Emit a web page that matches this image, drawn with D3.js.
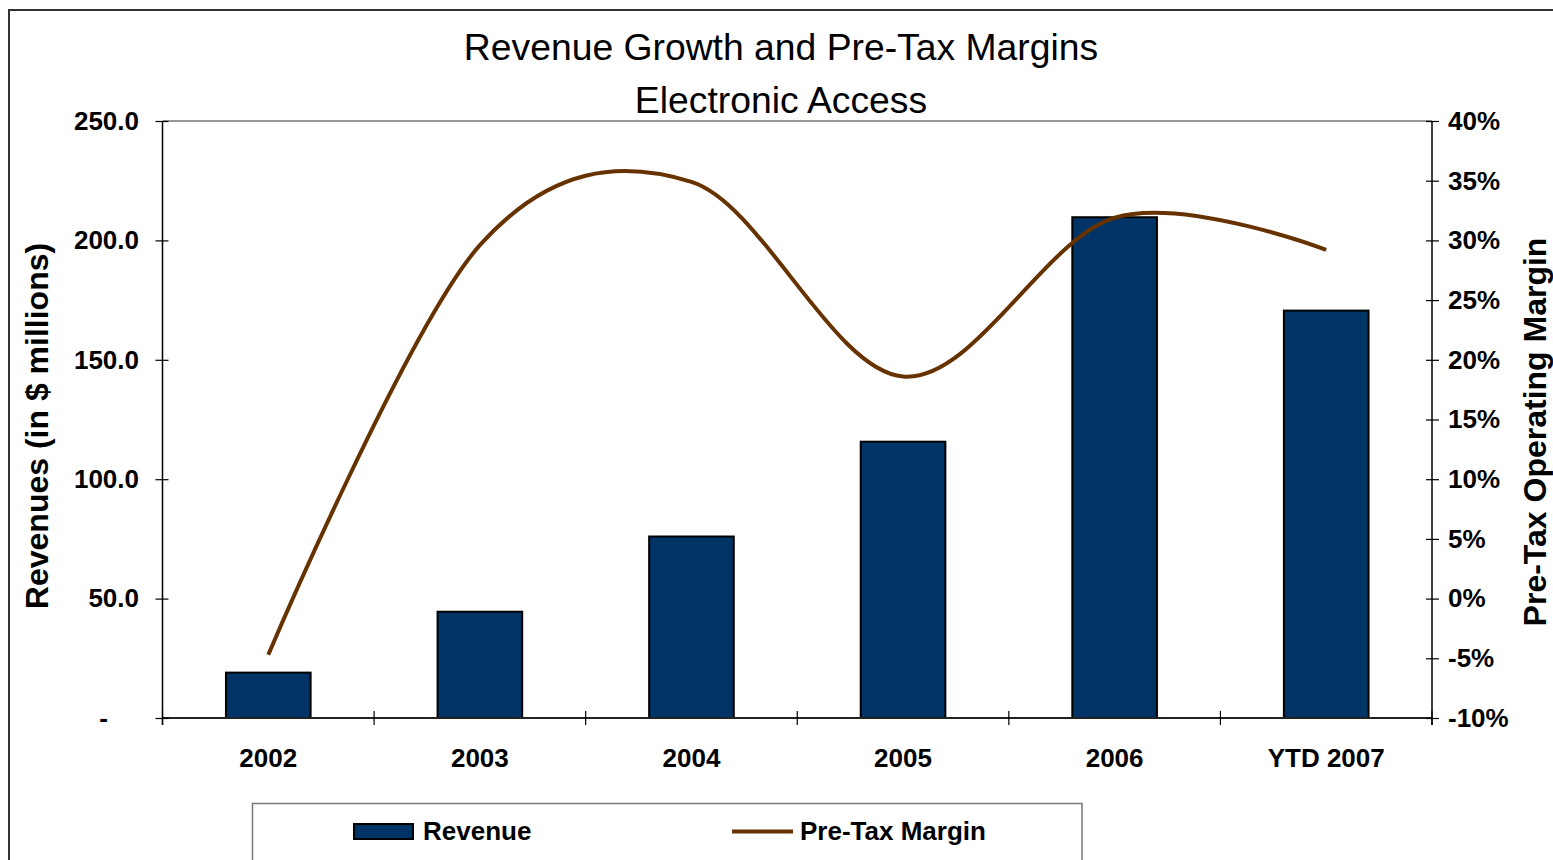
<!DOCTYPE html>
<html>
<head>
<meta charset="utf-8">
<script src="https://cdn.jsdelivr.net/npm/d3@7"></script>
<style>
  body { margin: 0; background: #ffffff; }
  svg text { font-family: "Liberation Sans", Arial, Helvetica, sans-serif; fill: #000; }
</style>
</head>
<body>
<svg id="chart" width="1553" height="860"></svg>
<script>
// Electronic Access: annual revenue ($ millions) and pre-tax operating margin
const categories = ["2002", "2003", "2004", "2005", "2006", "YTD 2007"];
const revenue = [19.0, 44.5, 76.0, 115.7, 209.7, 170.6];
const pretaxMargin = [-0.047, 0.296, 0.349, 0.186, 0.319, 0.292];
const revenueTicks = [0, 50, 100, 150, 200, 250];
const marginTicks = [-0.10, -0.05, 0, 0.05, 0.10, 0.15, 0.20, 0.25, 0.30, 0.35, 0.40];
const titleLines = ["Revenue Growth and Pre-Tax Margins", "Electronic Access"];

const BAR_FILL = "#003366";
const LINE_COLOR = "#663300";

const svg = d3.select("#chart");
const plot = { left: 162.5, right: 1432, top: 121, bottom: 718 };

// outer chart frame
svg.append("rect")
  .attr("x", 9).attr("y", 10).attr("width", 1600).attr("height", 900)
  .attr("fill", "none").attr("stroke", "#333").attr("stroke-width", 2);

// scales
const x = d3.scaleBand()
  .domain(categories)
  .range([plot.left, plot.right])
  .paddingInner(0.6)
  .paddingOuter(0.3);
const yRev = d3.scaleLinear().domain([0, 250]).range([plot.bottom, plot.top]);
const yPct = d3.scaleLinear().domain([-0.10, 0.40]).range([plot.bottom, plot.top]);

// title
svg.append("g").selectAll("text")
  .data(titleLines)
  .join("text")
  .attr("x", 781)
  .attr("y", (d, i) => 60 + i * 53)
  .attr("text-anchor", "middle")
  .attr("font-size", 37.3)
  .text(d => d);

// top edge of plot area
svg.append("line")
  .attr("x1", plot.left).attr("x2", plot.right)
  .attr("y1", plot.top).attr("y2", plot.top)
  .attr("stroke", "#999").attr("stroke-width", 2);

// bars
svg.append("g").selectAll("rect")
  .data(categories.map((c, i) => ({ c, v: revenue[i] })))
  .join("rect")
  .attr("x", d => x(d.c))
  .attr("y", d => yRev(d.v))
  .attr("width", x.bandwidth())
  .attr("height", d => yRev(0) - yRev(d.v))
  .attr("fill", BAR_FILL)
  .attr("stroke", "#000")
  .attr("stroke-width", 2);

// x axis: baseline, boundary ticks and category labels
const boundaries = categories.map(c => x(c) - (x.step() - x.bandwidth()) / 2)
  .concat([x(categories[categories.length - 1]) + x.bandwidth() + (x.step() - x.bandwidth()) / 2]);
const xg = svg.append("g");
xg.append("line")
  .attr("x1", plot.left).attr("x2", plot.right)
  .attr("y1", plot.bottom).attr("y2", plot.bottom)
  .attr("stroke", "#222").attr("stroke-width", 2);
xg.selectAll("line.bt")
  .data(boundaries)
  .join("line")
  .attr("class", "bt")
  .attr("x1", d => d).attr("x2", d => d)
  .attr("y1", plot.bottom - 7).attr("y2", plot.bottom + 7)
  .attr("stroke", "#000").attr("stroke-width", 1.2);
xg.selectAll("text")
  .data(categories)
  .join("text")
  .attr("x", d => x(d) + x.bandwidth() / 2)
  .attr("y", 767)
  .attr("text-anchor", "middle")
  .attr("font-size", 26)
  .attr("font-weight", "bold")
  .text(d => d);

// left axis (revenue)
const leftAxis = d3.axisLeft(yRev)
  .tickValues(revenueTicks)
  .tickSizeInner(7)
  .tickSizeOuter(0)
  .tickPadding(16.5)
  .tickFormat(d => d === 0 ? "-" : d3.format(".1f")(d));
const lg = svg.append("g")
  .attr("transform", `translate(${plot.left},0)`)
  .call(leftAxis);
lg.select(".domain").attr("stroke", "#000").attr("stroke-width", 1.5)
  .attr("d", `M0,${plot.top}V${plot.bottom + 7}`);
lg.selectAll(".tick line").attr("x1", 6).attr("x2", -7).attr("stroke-width", 1.2);
lg.selectAll(".tick text")
  .attr("font-size", 26).attr("font-weight", "bold")
  .attr("font-family", null)
  .attr("dx", d => d === 0 ? -31 : 0);

// right axis (margin)
const rightAxis = d3.axisRight(yPct)
  .tickValues(marginTicks)
  .tickSizeInner(7)
  .tickSizeOuter(0)
  .tickPadding(9)
  .tickFormat(d => Math.round(d * 100) + "%");
const rg = svg.append("g")
  .attr("transform", `translate(${plot.right},0)`)
  .call(rightAxis);
rg.select(".domain").attr("stroke", "#000").attr("stroke-width", 1.5)
  .attr("d", `M0,${plot.top}V${plot.bottom + 7}`);
rg.selectAll(".tick line").attr("x1", -6).attr("x2", 7).attr("stroke-width", 1.2);
rg.selectAll(".tick text")
  .attr("font-size", 26).attr("font-weight", "bold")
  .attr("font-family", null);

// axis titles
svg.append("text")
  .attr("transform", "translate(48,426) rotate(-90)")
  .attr("text-anchor", "middle")
  .attr("font-size", 32)
  .attr("font-weight", "bold")
  .text("Revenues (in $ millions)");
svg.append("text")
  .attr("transform", "translate(1546,432) rotate(-90)")
  .attr("text-anchor", "middle")
  .attr("font-size", 32)
  .attr("font-weight", "bold")
  .text("Pre-Tax Operating Margin");

// smoothed margin line
const marginLine = d3.line()
  .x((d, i) => x(categories[i]) + x.bandwidth() / 2)
  .y(d => yPct(d))
  .curve(d3.curveCardinal.tension(0));
svg.append("path")
  .datum(pretaxMargin)
  .attr("d", marginLine)
  .attr("fill", "none")
  .attr("stroke", LINE_COLOR)
  .attr("stroke-width", 4)
  .attr("stroke-linejoin", "round");

// legend
const leg = svg.append("g");
leg.append("rect")
  .attr("x", 252.5).attr("y", 803.5).attr("width", 829.5).attr("height", 120)
  .attr("fill", "#fff").attr("stroke", "#777").attr("stroke-width", 1.5);
leg.append("rect")
  .attr("x", 354).attr("y", 824).attr("width", 59).attr("height", 15)
  .attr("fill", BAR_FILL).attr("stroke", "#000").attr("stroke-width", 2);
leg.append("text")
  .attr("x", 423).attr("y", 840)
  .attr("font-size", 26).attr("font-weight", "bold")
  .text("Revenue");
leg.append("line")
  .attr("x1", 732).attr("x2", 793).attr("y1", 831.5).attr("y2", 831.5)
  .attr("stroke", LINE_COLOR).attr("stroke-width", 4);
leg.append("text")
  .attr("x", 800).attr("y", 840)
  .attr("font-size", 26).attr("font-weight", "bold")
  .text("Pre-Tax Margin");
</script>
</body>
</html>
